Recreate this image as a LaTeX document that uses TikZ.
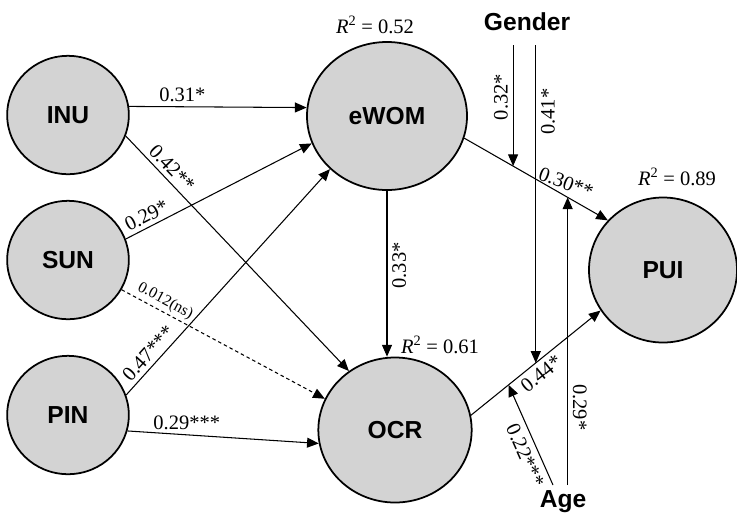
\documentclass[tikz,border=0pt]{standalone}
\usepackage{fontspec}
\setmainfont{Liberation Serif}
\setsansfont{Liberation Sans}
\usepackage{tikz}
\usetikzlibrary{arrows.meta,shapes.geometric}
\definecolor{latgray}{RGB}{211,211,211}

\begin{document}
\begin{tikzpicture}[x=0.03cm, y=-0.03cm,
    lat/.style={draw, ellipse, fill=latgray, line width=1.5pt, inner sep=0pt, font=\sffamily\bfseries\fontsize{21}{24}\selectfont},
    small/.style={lat, minimum width=3.65cm, minimum height=3.55cm},
    big/.style={lat, minimum width=4.6cm, minimum height=4.35cm},
    mod/.style={font=\sffamily\bfseries\fontsize{21}{24}\selectfont},
    coef/.style={font=\fontsize{17.5}{19}\selectfont, inner sep=3.5pt},
    tiny/.style={font=\fontsize{13.5}{15}\selectfont, inner sep=2.5pt},
    arr/.style={-{Triangle[length=10pt,width=8.5pt]}, line width=0.9pt}
  ]
    \useasboundingbox (0,0) rectangle (737,519);
    \node[small] (inu) at (68,115) {INU};
    \node[small] (sun) at (68,260) {SUN};
    \node[small] (pin) at (68,415) {PIN};
    \node[big, minimum width=4.8cm, minimum height=4.44cm] (ewom) at (387,116) {eWOM};
    \node[big] (ocr) at (395,430) {OCR};
    \node[big, minimum width=4.44cm] (pui) at (663,270) {PUI};
    \node[mod] (gender) at (527,22) {Gender};
    \node[mod] (age) at (563,502) {Age};
    \node[coef] (r2ewom) at (375,25) {\textit{R}\textsuperscript{2} = 0.52};
    \node[coef] (r2pui) at (677,177) {\textit{R}\textsuperscript{2} = 0.89};
    \node[coef] (r2ocr) at (440,345) {\textit{R}\textsuperscript{2} = 0.61};
    \coordinate (gtop) at (0,45);
    \coordinate (abot) at (0,485);
    \coordinate (aleft) at (553,485);
    \draw[arr] (inu.8) -- node[coef, pos=0.3, above] {0.31*} (ewom.174);
    \draw[arr] (inu.-20) -- node[coef, pos=0.17, sloped, above] {0.42**} (ocr.128);
    \draw[arr] (sun.20) -- node[coef, pos=0.14, sloped, above] {0.29*} (ewom.200);
    \draw[arr, dashed, dash pattern=on 3pt off 2.5pt] (sun.-29) -- node[tiny, pos=0.19, sloped, above] {0.012(ns)} (ocr.156);
    \draw[arr] (pin.19) -- node[coef, pos=0.15, sloped, above] {0.47***} (ewom.223);
    \draw[arr] (pin.-15) -- node[coef, pos=0.31, above] {0.29***} (ocr.190);
    \draw[arr] (ewom.south) -- node[coef, pos=0.45, rotate=90, anchor=north, inner sep=4pt] {0.33*} (ewom.south |- ocr.north);
    \draw[arr] (ewom.-16.5) -- coordinate[pos=0.34] (m1) coordinate[pos=0.72] (m3)
        node[coef, pos=0.68, rotate=-20, anchor=south, inner sep=4pt] {0.30**} (pui.138);
    \draw[arr] (ocr.11) -- coordinate[pos=0.5] (m2) coordinate[pos=0.29] (m4)
        node[coef, pos=0.485, sloped, below] {0.44*} (pui.213);
    \draw[arr] (m1 |- gtop) -- node[coef, pos=0.43, rotate=90, anchor=south, inner sep=4pt] {0.32*} (m1);
    \draw[arr] (m2 |- gtop) -- node[coef, pos=0.21, rotate=90, anchor=north, inner sep=4pt] {0.41*} (m2);
    \draw[arr] (m3 |- abot) -- node[coef, pos=0.27, rotate=-90, anchor=south, inner sep=4pt] {0.29*} (m3);
    \draw[arr] (aleft) -- node[coef, pos=0.35, sloped, below, inner sep=5pt] {0.22***} (m4);
\end{tikzpicture}
\end{document}
